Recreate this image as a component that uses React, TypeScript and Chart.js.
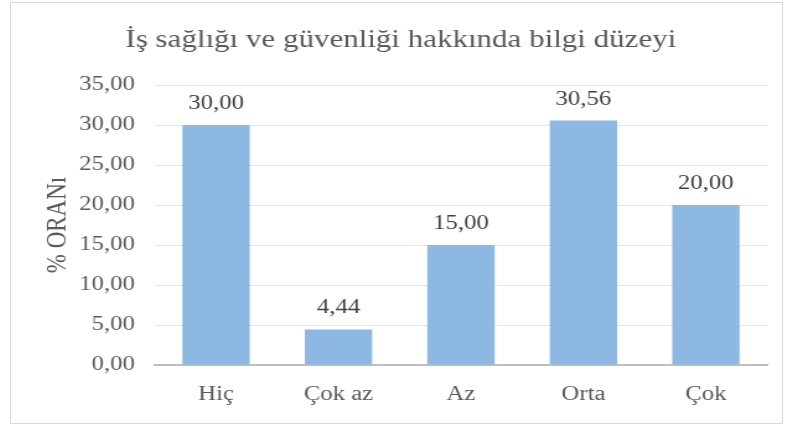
import React, { useEffect, useRef } from "react";
import { Chart, registerables } from "chart.js";

Chart.register(...registerables);

const TITLE = "İş sağlığı ve güvenliği hakkında bilgi düzeyi";
const Y_TITLE = "% ORANı";
const CATEGORIES = ["Hiç", "Çok az", "Az", "Orta", "Çok"];
const VALUES = [30.0, 4.44, 15.0, 30.56, 20.0];
const Y_MIN = 0;
const Y_MAX = 35;
const Y_STEP = 5;

const FONT = "'Liberation Serif', 'Times New Roman', serif";
const TEXT = "#595959";

// The reference text is horizontally stretched; render on a narrower canvas
// and stretch it with CSS to reproduce that look.
const CSS_W = 771;
const CSS_H = 420;
const CANVAS_W = 622;

const fmt = (v: number) => v.toFixed(2).replace(".", ",");

const valueLabels = {
  id: "valueLabels",
  afterDatasetsDraw(chart: any) {
    const { ctx } = chart;
    const meta = chart.getDatasetMeta(0);
    ctx.save();
    ctx.font = `20px ${FONT}`;
    ctx.fillStyle = "#404040";
    ctx.textAlign = "center";
    ctx.textBaseline = "alphabetic";
    meta.data.forEach((bar: any, i: number) => {
      ctx.fillText(fmt(VALUES[i]), bar.x, bar.y - 16);
    });
    ctx.restore();
  },
};

export default function App() {
  const ref = useRef<HTMLCanvasElement | null>(null);

  useEffect(() => {
    if (!ref.current) return;
    const chart = new Chart(ref.current, {
      type: "bar",
      data: {
        labels: CATEGORIES,
        datasets: [
          {
            data: VALUES,
            backgroundColor: "#8DB8E2",
            barPercentage: 0.55,
            categoryPercentage: 1,
          },
        ],
      },
      options: {
        animation: false,
        responsive: false,
        maintainAspectRatio: false,
        devicePixelRatio: 1,
        layout: { padding: { left: 7, right: 0, top: 0, bottom: 0 } },
        plugins: {
          legend: { display: false },
          tooltip: { enabled: false },
          title: {
            display: true,
            text: TITLE,
            color: TEXT,
            font: { family: FONT, size: 25, weight: "normal" },
            padding: { top: 22, bottom: 30 },
          },
        },
        scales: {
          x: {
            grid: { display: false, drawTicks: false },
            border: { display: true, color: "#BFBFBF", width: 2 },
            ticks: {
              color: TEXT,
              font: { family: FONT, size: 20 },
              padding: 18,
            },
            afterFit: (scale: any) => {
              scale.height = 58;
            },
          },
          y: {
            min: Y_MIN,
            max: Y_MAX,
            grid: { color: "#E4E4E4", lineWidth: 1, drawTicks: false },
            border: { display: false },
            ticks: {
              stepSize: Y_STEP,
              color: TEXT,
              font: { family: FONT, size: 20 },
              padding: 16,
              callback: (v: any) => fmt(Number(v)),
            },
            title: {
              display: true,
              text: Y_TITLE,
              color: TEXT,
              font: { family: FONT, size: 23 },
              padding: { top: 17, bottom: 0 },
            },
            afterFit: (scale: any) => {
              scale.width = 109;
            },
          },
          yRightSpace: {
            position: "right",
            min: Y_MIN,
            max: Y_MAX,
            grid: { display: false, drawTicks: false },
            border: { display: false },
            ticks: { display: false },
            afterFit: (scale: any) => {
              scale.width = 12;
            },
          },
        },
      },
      plugins: [valueLabels],
    });
    return () => chart.destroy();
  }, []);

  return (
    <div
      style={{
        position: "absolute",
        left: 10,
        top: 2,
        width: CSS_W,
        height: CSS_H,
        border: "1px solid #D9D9D9",
        background: "#fff",
      }}
    >
      <canvas
        ref={ref}
        width={CANVAS_W}
        height={CSS_H}
        style={{ display: "block", width: CSS_W + "px", height: CSS_H + "px" }}
      />
    </div>
  );
}
